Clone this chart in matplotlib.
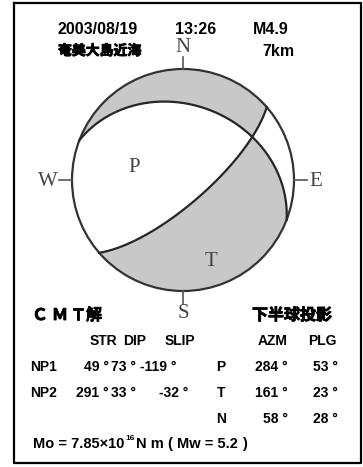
import numpy as np
import matplotlib.pyplot as plt
from matplotlib.patches import Circle
import matplotlib.patheffects as pe

plt.rcParams['font.family'] = ['Liberation Sans', 'Noto Sans CJK JP', 'DejaVu Sans']

# 震源情報
date_str = "2003/08/19"
time_str = "13:26"
mag_str = "M4.9"
region = "奄美大島近海"
depth_str = "7km"

# 節面 (strike, dip, slip)
planes = ["NP1", "NP2"]
strike = [49, 291]
dip = [73, 33]
slip = [-119, -32]

# 主軸 (azimuth, plunge)
axes_names = ["P", "T", "N"]
azm = [284, 161, 58]
plg = [53, 23, 28]

mo_mant = "7.85"
mo_exp = "16"
mw = "5.2"

W, H = 363, 467
fig = plt.figure(figsize=(W / 100, H / 100), dpi=100)
ax = fig.add_axes([0, 0, 1, 1])
ax.set_xlim(0, W)
ax.set_ylim(H, 0)
ax.axis('off')

# 枠
ax.plot([14, 361, 361, 14, 14], [3, 3, 463, 463, 3], color='black', lw=1.6)

cx, cy, R = 183, 180, 111


def proj(az_deg, inc):
    # 下半球 等積投影 -> ピクセル座標
    r = np.sqrt(2) * np.sin(inc / 2)
    a = np.radians(az_deg)
    return cx + R * r * np.sin(a), cy - R * r * np.cos(a)


# モーメントテンソル (Aki & Richards, x=N, y=E, z=Down)
f, d, l = np.radians(strike[0]), np.radians(dip[0]), np.radians(slip[0])
Mxx = -(np.sin(d) * np.cos(l) * np.sin(2 * f) + np.sin(2 * d) * np.sin(l) * np.sin(f) ** 2)
Mxy = np.sin(d) * np.cos(l) * np.cos(2 * f) + 0.5 * np.sin(2 * d) * np.sin(l) * np.sin(2 * f)
Mxz = -(np.cos(d) * np.cos(l) * np.cos(f) + np.cos(2 * d) * np.sin(l) * np.sin(f))
Myy = np.sin(d) * np.cos(l) * np.sin(2 * f) - np.sin(2 * d) * np.sin(l) * np.cos(f) ** 2
Myz = -(np.cos(d) * np.cos(l) * np.sin(f) - np.cos(2 * d) * np.sin(l) * np.cos(f))
Mzz = np.sin(2 * d) * np.sin(l)
M = np.array([[Mxx, Mxy, Mxz], [Mxy, Myy, Myz], [Mxz, Myz, Mzz]])

px = np.linspace(cx - R, cx + R, 500)
py = np.linspace(cy - R, cy + R, 500)
PX, PY = np.meshgrid(px, py)
X = (PX - cx) / R
Y = -(PY - cy) / R
r = np.clip(np.hypot(X, Y), 0, np.sqrt(2))
inc = 2 * np.arcsin(r / np.sqrt(2))
az = np.arctan2(X, Y)
n = np.stack([np.sin(inc) * np.cos(az), np.sin(inc) * np.sin(az), np.cos(inc)])
amp = np.einsum('iab,ij,jab->ab', n, M, n)

clip = Circle((cx, cy), R, transform=ax.transData)
cs = ax.contourf(PX, PY, amp, levels=[0, 10], colors=['#c8c8c8'])
cs.set_clip_path(clip)

# 節面
for s_, d_ in zip(strike, dip):
    fs, dd = np.radians(s_), np.radians(d_)
    sv = np.array([np.cos(fs), np.sin(fs), 0])
    dv = np.array([np.cos(dd) * np.cos(fs + np.pi / 2), np.cos(dd) * np.sin(fs + np.pi / 2), np.sin(dd)])
    a = np.linspace(0, np.pi, 300)
    v = np.outer(np.cos(a), sv) + np.outer(np.sin(a), dv)
    i_ = np.arccos(np.clip(v[:, 2], -1, 1))
    az_ = np.degrees(np.arctan2(v[:, 1], v[:, 0]))
    xx, yy = proj(az_, i_)
    ax.plot(xx, yy, color='#262626', lw=1.6)

ax.add_patch(Circle((cx, cy), R, fill=False, ec='#333333', lw=1.6))

# 方位
gray = '#555555'
ax.plot([cx, cx], [cy - R - 12, cy - R], color=gray, lw=1.2)
ax.plot([cx, cx], [cy + R, cy + R + 13], color=gray, lw=1.2)
ax.plot([cx - R - 13, cx - R], [cy, cy], color=gray, lw=1.2)
ax.plot([cx + R, cx + R + 13], [cy, cy], color=gray, lw=1.2)
serif = dict(family='Liberation Serif', color='#444444', fontsize=15, ha='center', va='center')
ax.text(cx, cy - R - 21, "N", **serif)
ax.text(cx, cy + R + 22, "S", **serif)
ax.text(cx - R - 24, cy + 1, "W", **serif)
ax.text(cx + R + 22, cy + 1, "E", **serif)

# P, T 軸ラベル
for nm, a_, p_ in zip(axes_names[:2], azm[:2], plg[:2]):
    xx, yy = proj(a_, np.radians(90 - p_))
    ax.text(xx, yy, nm, **serif)

# ヘッダー
b = dict(fontweight='bold', fontsize=11.5, va='center', ha='left', color='black')
ax.text(58, 29, date_str, **b)
ax.text(175, 29, time_str, **b)
ax.text(253, 29, mag_str, **b)
thick = [pe.withStroke(linewidth=0.6, foreground='black')]
ax.text(58, 51, region, family=['Noto Sans CJK JP'], fontweight='bold', fontsize=10,
        va='center', ha='left', path_effects=thick)
ax.text(262, 51, depth_str, **b)

# CMT 解
cj = dict(family=['Noto Sans CJK JP'], fontweight='bold', fontsize=11.5, va='center',
          ha='center', path_effects=thick)
for xc, ch in zip([40, 60, 78, 94], "ＣＭＴ解"):
    ax.text(xc, 315, ch, **cj)
ax.text(252, 315, "下半球投影", **dict(cj, ha='left'))

nb = dict(b, fontsize=10)
ax.text(90, 341, "STR", **nb)
ax.text(123, 341, "DIP", **nb)
ax.text(165, 341, "SLIP", **nb)
ax.text(258, 341, "AZM", **nb)
ax.text(308, 341, "PLG", **nb)

nr = dict(nb, ha='right')
rows_y = [367, 393, 419]
slip_x = [177, 188]
for k in range(2):
    y = rows_y[k]
    ax.text(30, y, planes[k], **nb)
    ax.text(109, y, f"{strike[k]} °", **nr)
    ax.text(136, y, f"{dip[k]} °", **nr)
    ax.text(slip_x[k], y, f"{slip[k]} °", **nr)
for k in range(3):
    y = rows_y[k]
    ax.text(221, y, axes_names[k], **dict(nb, ha='center'))
    ax.text(288, y, f"{azm[k]} °", **nr)
    ax.text(338, y, f"{plg[k]} °", **nr)

bm = dict(b, fontsize=10.5)
ax.text(33, 444, f"Mo = {mo_mant}×10", **bm)
ax.text(125, 439, mo_exp, fontweight='bold', fontsize=6, va='center', ha='left')
ax.text(136, 444, "N m", **bm)
ax.text(167, 444, "(", **bm)
ax.text(177, 444, f"Mw = {mw}", **bm)
ax.text(242, 444, ")", **bm)

fig.savefig("out.png", dpi=100)
